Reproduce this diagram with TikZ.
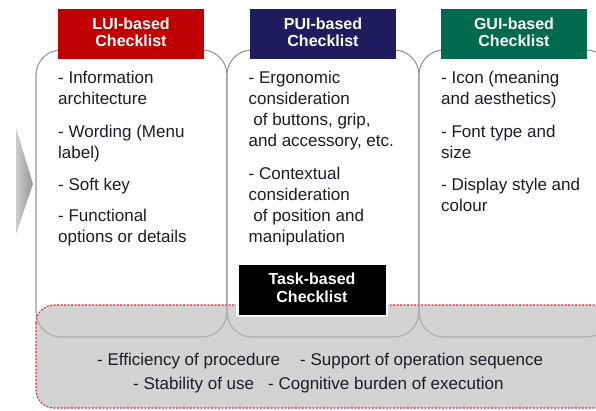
\documentclass[tikz,border=0pt]{standalone}
\usepackage{fontspec}
\setmainfont{Liberation Sans}

\definecolor{luired}{RGB}{192,0,0}
\definecolor{puinavy}{RGB}{30,28,95}
\definecolor{guigreen}{RGB}{0,106,78}
\definecolor{bodytxt}{RGB}{28,28,40}
\definecolor{panelline}{RGB}{150,150,150}
\definecolor{panellinelight}{RGB}{172,172,172}
\definecolor{commonfill}{RGB}{211,211,211}
\definecolor{dashred}{RGB}{232,40,40}
\definecolor{arrowlight}{RGB}{205,205,205}
\definecolor{arrowdark}{RGB}{150,150,150}

\tikzset{
  panel/.style={draw=panelline, line width=1.1pt, rounded corners=25pt},
  hdr/.style={rectangle, minimum width=146pt, minimum height=50pt, inner sep=0pt,
    text=white, align=center, font=\fontsize{16}{17}\selectfont\bfseries, text depth=4pt},
  % items are placed by the baseline of their last line
  item/.style={anchor=base west, inner sep=0pt, align=left, text=bodytxt,
    font=\fontsize{17}{21.3}\selectfont},
  common/.style={fill=commonfill, draw=dashred, dash pattern=on 2pt off 1.5pt,
    line width=1.1pt, rounded corners=18pt}
}

\begin{document}
\begin{tikzpicture}[x=1pt,y=-1pt]
  \useasboundingbox (0,0) rectangle (596,410);
  \clip (0,0) rectangle (596,410);

  % left gray chevron
  \shade[left color=arrowlight, right color=arrowdark] (16,128) -- (33,184) -- (16,234) -- cycle;

  % the three checklist panels
  \path[panel, fill=white] (36,50) rectangle (227,337);
  \path[panel, fill=white] (227,50) rectangle (419,337);
  \path[panel, fill=white] (419,50) rectangle (611,337);

  % shared task-based area
  \path[common] (36,305) rectangle (625,408);

  % panel outlines seen through the shared area
  \begin{scope}
    \clip[rounded corners=18pt] (36,305) rectangle (625,408);
    \draw[panel, draw=panellinelight] (36,50) rectangle (227,337);
    \draw[panel, draw=panellinelight] (227,50) rectangle (419,337);
    \draw[panel, draw=panellinelight] (419,50) rectangle (611,337);
  \end{scope}

  % headers
  \node[hdr, fill=luired] (lui) at (131,34) {LUI-based\\Checklist};
  \node[hdr, fill=puinavy] (pui) at (323,34) {PUI-based\\Checklist};
  \node[hdr, fill=guigreen] (gui) at (514,34) {GUI-based\\Checklist};
  \node[hdr, fill=black, draw=white, line width=2.5pt, minimum width=149.5pt,
        minimum height=52.5pt, font=\fontsize{16}{17.5}\selectfont\bfseries]
        (task) at (312,289.5) {Task-based\\Checklist};

  % LUI items
  \node[item] (l1) at (58,104.3) {- Information\\architecture};
  \node[item] (l2) at (58,158.3) {- Wording (Menu\\label)};
  \node[item] (l3) at (58,190) {- Soft key};
  \node[item] (l4) at (58,242.3) {- Functional\\options or details};

  % PUI items
  \node[item] (p1) at (248.5,146.9) {- Ergonomic\\consideration\\\hspace*{4.7pt}of buttons, grip,\\and accessory, etc.};
  \node[item] (p2) at (248.5,242.9) {- Contextual\\consideration\\\hspace*{4.7pt}of position and\\manipulation};

  % GUI items
  \node[item] (g1) at (441,104.3) {- Icon (meaning\\and aesthetics)};
  \node[item] (g2) at (441,158.3) {- Font type and\\size};
  \node[item] (g3) at (441,211.3) {- Display style and\\colour};

  % task-based items
  \node[item] (t1) at (97,365) {- Efficiency of procedure};
  \node[item] (t2) at (300,365) {- Support of operation sequence};
  \node[item] (t3) at (133,389) {- Stability of use};
  \node[item] (t4) at (268,389) {- Cognitive burden of execution};
\end{tikzpicture}
\end{document}
